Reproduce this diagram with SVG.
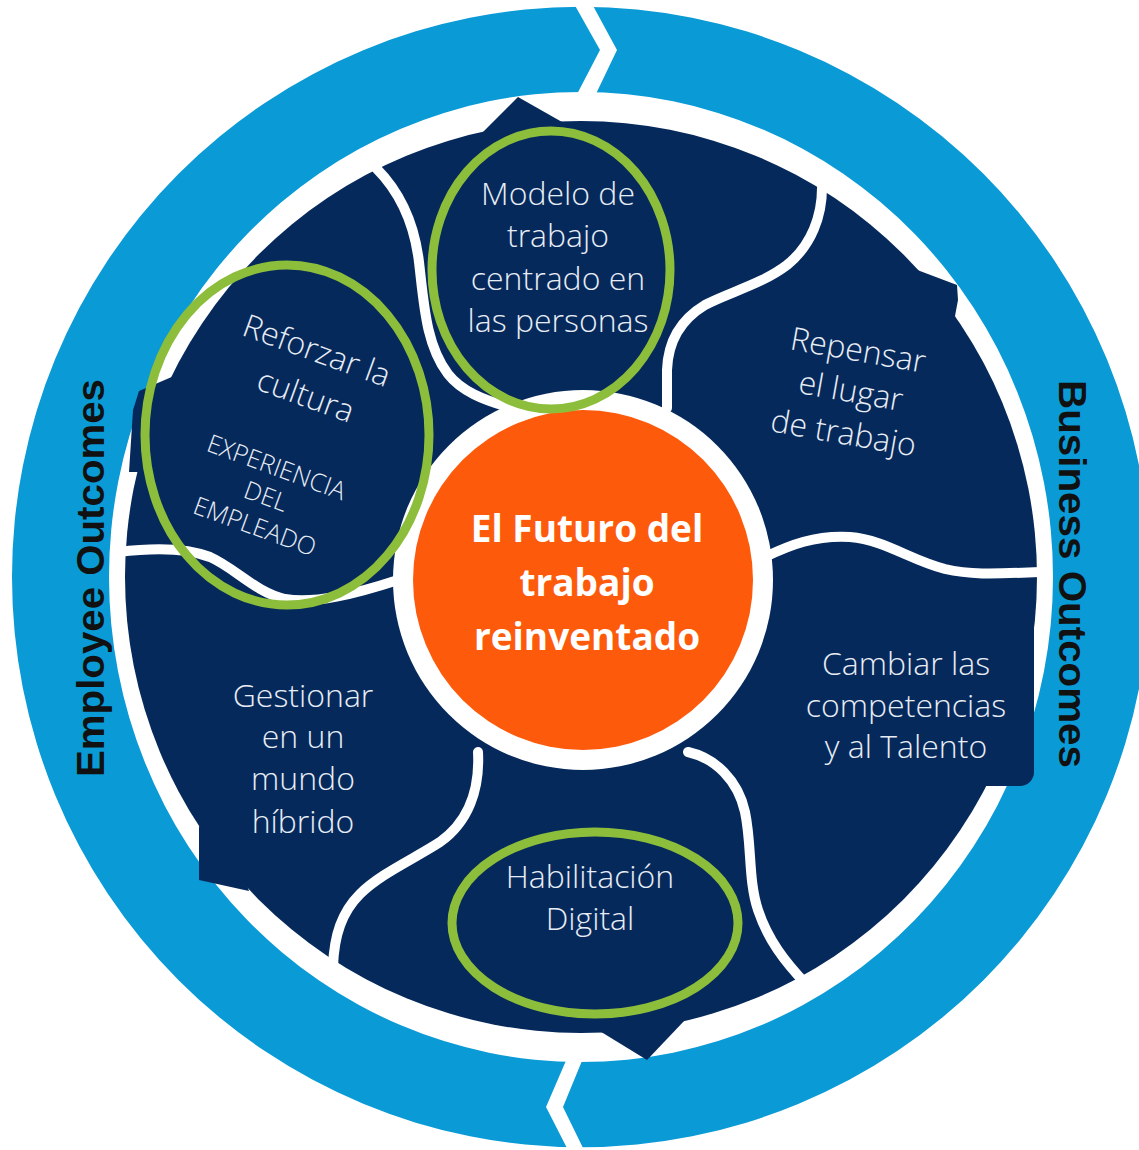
<svg xmlns="http://www.w3.org/2000/svg" width="1139" height="1150" viewBox="0 0 1139 1150">
  <defs>
    <style>
      .ring { fill: #0a9ad6; }
      .navy { fill: #06295b; }
      .sep { fill: none; stroke: #ffffff; stroke-width: 10; stroke-linecap: round; }
      .lbl { font-family: "Open Sans", "Noto Sans", sans-serif; font-weight: 300; font-size: 32px; fill: #e8edf5; text-anchor: middle; }
      .small { font-size: 25px; }
      .core { font-family: "Open Sans", "Noto Sans", sans-serif; font-weight: 700; font-size: 37px; fill: #ffffff; text-anchor: middle; }
      .outcome { font-family: "Liberation Sans", Arial, sans-serif; font-weight: 700; font-size: 39px; fill: #111111; text-anchor: middle; }
      .mark { fill: none; stroke: #8cbd3b; stroke-width: 9; }
    </style>
  </defs>

  <rect width="1139" height="1150" fill="#ffffff"/>

  <!-- outer cycle ring with the two arrow joints -->
  <g id="cycle-ring">
    <path class="ring" fill-rule="evenodd" d="M12,577 a569,570 0 1,0 1138,0 a569,570 0 1,0 -1138,0 Z M109,577 a472,485 0 1,0 944,0 a472,485 0 1,0 -944,0 Z"/>
    <polygon fill="#ffffff" points="573,2 600,50 575,98 594,98 617,50 591,2"/>
    <polygon fill="#ffffff" points="568,1056 546,1107 569,1152 585,1152 563,1107 584,1056"/>
    <text class="outcome" transform="translate(104,578) rotate(-90)" textLength="398" lengthAdjust="spacingAndGlyphs">Employee Outcomes</text>
    <text class="outcome" transform="translate(1059,574) rotate(90)" textLength="388" lengthAdjust="spacingAndGlyphs">Business Outcomes</text>
  </g>

  <!-- navy wheel with its outer tabs -->
  <g id="wheel">
    <circle class="navy" cx="581" cy="577" r="456"/>
    <polygon class="navy" points="481,134 518,97 562,122 562,150 481,150"/>
    <polygon class="navy" points="598,1030 647,1060 685,1020 685,1000 598,1000"/>
    <polygon class="navy" points="912,268 957,285 958,300 955,316 962,340 930,330"/>
    <rect class="navy" x="760" y="590" width="274" height="196" rx="14"/>
    <polygon class="navy" points="174,376 139,391 133,410 129,472 150,472 168,392"/>
    <polygon class="navy" points="199,826 199,880 249,891 235,850"/>
    <circle cx="583" cy="580" r="190" fill="#ffffff"/>
    <circle cx="583" cy="580" r="170" fill="#fd5a0b"/>
  </g>

  <!-- white dividers between the wheel segments -->
  <g id="connectors">
    <path class="sep" d="M376,168 C398,190 414,220 419,262 C424,305 426,345 448,374 C462,392 485,400 505,406"/>
    <path class="sep" d="M822,188 C822,215 812,245 787,265 C762,284 730,292 705,305 C680,320 668,342 667,370 L667,408"/>
    <path class="sep" d="M765,557 C790,545 815,535 850,537 C885,540 910,560 945,569 C975,576 1005,573 1042,572"/>
    <path class="sep" d="M688,752 C715,758 738,780 745,812 C752,845 748,880 758,910 C768,940 785,962 806,984"/>
    <path class="sep" d="M478,752 C480,790 468,822 440,842 C412,860 380,874 360,894 C342,912 334,935 333,967"/>
    <path class="sep" d="M118,552 C150,548 185,547 210,557 C235,568 255,592 285,599 C315,604 355,594 398,580"/>
  </g>

  <g id="node-core">
    <text class="core" x="587" y="542">El Futuro del</text>
    <text class="core" x="587" y="596">trabajo</text>
    <text class="core" x="587" y="650">reinventado</text>
  </g>

  <g id="node-modelo">
    <text class="lbl" x="558" y="205">Modelo de</text>
    <text class="lbl" x="558" y="247">trabajo</text>
    <text class="lbl" x="558" y="290">centrado en</text>
    <text class="lbl" x="558" y="332">las personas</text>
  </g>

  <g id="node-repensar" transform="translate(849,402) rotate(10)">
    <text class="lbl" x="0" y="-41.6" font-size="30">Repensar</text>
    <text class="lbl" x="0" y="0" font-size="30">el lugar</text>
    <text class="lbl" x="0" y="42.5" font-size="30">de trabajo</text>
  </g>

  <g id="node-cambiar">
    <text class="lbl" x="906" y="675">Cambiar las</text>
    <text class="lbl" x="906" y="717">competencias</text>
    <text class="lbl" x="906" y="758">y al Talento</text>
  </g>

  <g id="node-habilitacion">
    <text class="lbl" x="590" y="888">Habilitación</text>
    <text class="lbl" x="590" y="930">Digital</text>
  </g>

  <g id="node-gestionar">
    <text class="lbl" x="303" y="707">Gestionar</text>
    <text class="lbl" x="303" y="748">en un</text>
    <text class="lbl" x="303" y="790">mundo</text>
    <text class="lbl" x="303" y="833">híbrido</text>
  </g>

  <g id="node-reforzar" transform="translate(313,361) rotate(20)">
    <text class="lbl" x="0" y="0" font-size="31">Reforzar la</text>
    <text class="lbl" x="5" y="46" font-size="31">cultura</text>
    <text class="lbl small" x="2" y="121">EXPERIENCIA</text>
    <text class="lbl small" x="2" y="152">DEL</text>
    <text class="lbl small" x="2" y="184">EMPLEADO</text>
  </g>

  <!-- green highlight rings -->
  <g id="highlights">
    <ellipse class="mark" cx="551" cy="270" rx="119" ry="139"/>
    <ellipse class="mark" cx="287" cy="435" rx="142" ry="170"/>
    <ellipse class="mark" cx="595" cy="923" rx="143" ry="91"/>
  </g>
</svg>
